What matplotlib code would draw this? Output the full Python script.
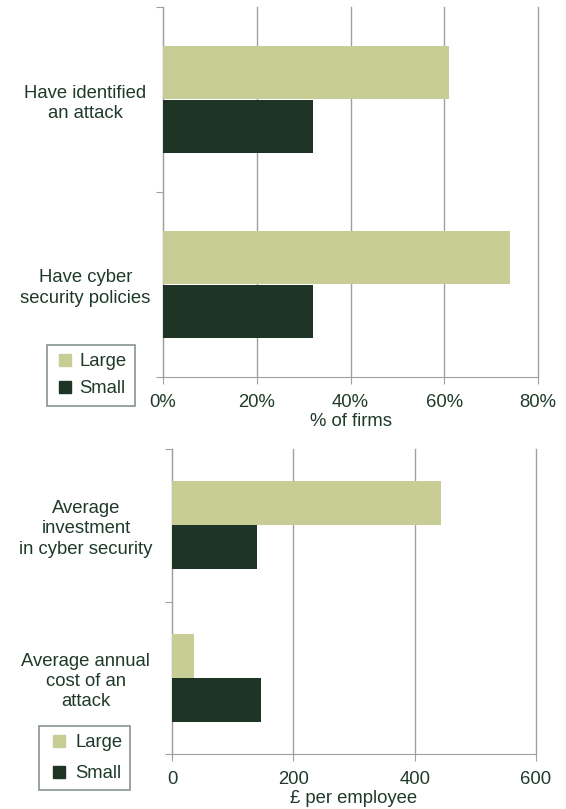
import numpy as np
import matplotlib.pyplot as plt
from matplotlib.lines import Line2D

plt.rcParams['font.family'] = ['Liberation Sans', 'DejaVu Sans']

# share of firms
firm_categories = ["Have identified\nan attack", "Have cyber\nsecurity policies"]
firm_large = [61, 74]
firm_small = [32, 32]
firm_ticks = [0, 20, 40, 60, 80]

# spend per employee
cost_categories = ["Average\ninvestment\nin cyber security", "Average annual\ncost of an\nattack"]
cost_large = [443, 36]
cost_small = [140, 147]
cost_ticks = [0, 200, 400, 600]

LARGE = "#c8cd95"
SMALL = "#1e3526"
TEXT = "#1f3a2a"
GRID = "#a0a0a0"
FS = 13.3

fig = plt.figure(figsize=(5.66, 8.09), dpi=100)
ax1 = fig.add_axes([163 / 566, 1 - 377 / 809, 375 / 566, 370 / 809])
ax2 = fig.add_axes([172 / 566, 1 - 754 / 809, 364 / 566, 305 / 809])


def draw_panel(ax, cats, large, small, ticks, xlabel, fmt, legend_box, label_pad,
               spacing, hlen):
    n = len(cats)
    centers = np.arange(n) + 0.5
    h = 0.287
    ax.barh(centers - h / 2, large, height=h, color=LARGE, zorder=3)
    ax.barh(centers + h / 2, small, height=h, color=SMALL, zorder=3)
    ax.set_ylim(n, 0)
    ax.set_xlim(ticks[0], ticks[-1])
    ax.set_xticks(ticks)
    ax.set_xticklabels([fmt(t) for t in ticks])
    ax.set_yticks(np.arange(n + 1))
    ax.set_yticklabels([])
    ax.set_yticks(centers, minor=True)
    ax.set_yticklabels(cats, minor=True, ha="center", multialignment="center", linespacing=1.25)
    ax.tick_params(axis="y", which="minor", length=0, pad=label_pad, labelsize=FS, labelcolor=TEXT)
    ax.tick_params(axis="y", which="major", length=5, color=GRID, direction="out")
    ax.tick_params(axis="x", length=5, color=GRID, labelsize=FS, labelcolor=TEXT, pad=7)
    ax.grid(axis="x", color=GRID, linewidth=1, zorder=0)
    for gl in ax.get_xgridlines():
        gl.set_clip_on(False)
    for side in ("top", "right"):
        ax.spines[side].set_visible(False)
    for side in ("left", "bottom"):
        ax.spines[side].set_color(GRID)
    ax.set_xlabel(xlabel, fontsize=FS, color=TEXT, labelpad=2)

    handles = [
        Line2D([], [], marker="s", linestyle="none", markersize=8, color=LARGE, label="Large"),
        Line2D([], [], marker="s", linestyle="none", markersize=8, color=SMALL, label="Small"),
    ]
    leg = fig.legend(handles=handles, loc="upper left", bbox_to_anchor=legend_box,
                     frameon=True, fancybox=False, fontsize=FS, handletextpad=0.2,
                     labelspacing=spacing, borderpad=0.45, handlelength=hlen,
                     borderaxespad=0)
    leg.get_frame().set_edgecolor("#6a7a70")
    leg.get_frame().set_linewidth(1.2)
    for t in leg.get_texts():
        t.set_color(TEXT)


draw_panel(ax1, firm_categories, firm_large, firm_small, firm_ticks,
           "% of firms", lambda t: f"{t}%", (47 / 566, 1 - 345 / 809), 56, 0.55, 1.1)
draw_panel(ax2, cost_categories, cost_large, cost_small, cost_ticks,
           "£ per employee", lambda t: f"{t}", (39 / 566, 1 - 726 / 809), 62, 0.75, 1.3)

fig.savefig("out.png", dpi=100, facecolor="white")
